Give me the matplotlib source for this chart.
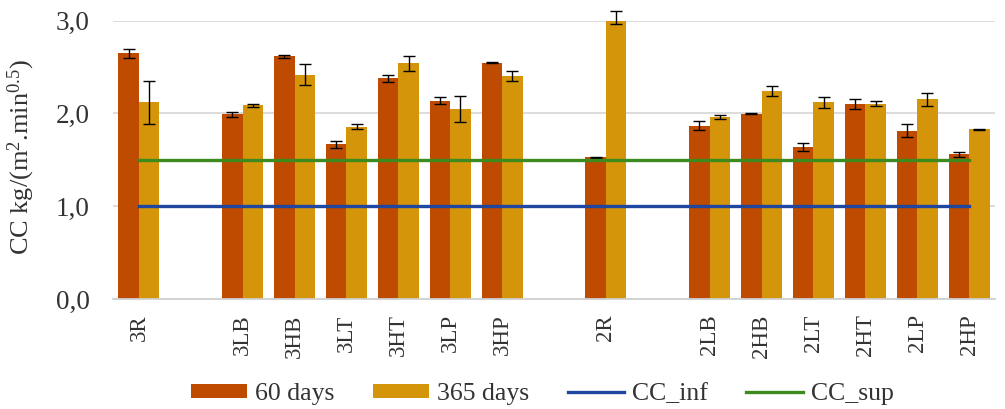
import numpy as np
import matplotlib
matplotlib.use('Agg')
import matplotlib.pyplot as plt

plt.rcParams['font.family'] = ['Liberation Serif', 'DejaVu Serif']
plt.rcParams['mathtext.fontset'] = 'custom'
plt.rcParams['mathtext.rm'] = 'Liberation Serif'
plt.rcParams['mathtext.it'] = 'Liberation Serif:italic'

# categories, empty strings are the gaps between groups
labels = ['3R', '', '3LB', '3HB', '3LT', '3HT', '3LP', '3HP', '',
          '2R', '', '2LB', '2HB', '2LT', '2HT', '2LP', '2HP']
nan = np.nan
d60 = [2.65, nan, 1.99, 2.615, 1.667, 2.38, 2.137, 2.546, nan,
       1.527, nan, 1.867, 1.997, 1.638, 2.105, 1.814, 1.56]
e60 = [0.05, nan, 0.03, 0.02, 0.04, 0.04, 0.04, 0.005, nan,
       0.005, nan, 0.05, 0.005, 0.045, 0.055, 0.07, 0.025]
d365 = [2.12, nan, 2.09, 2.42, 1.857, 2.54, 2.044, 2.40, nan,
        3.03, nan, 1.965, 2.245, 2.12, 2.105, 2.155, 1.83]
e365 = [0.235, nan, 0.015, 0.11, 0.025, 0.08, 0.14, 0.055, nan,
        0.07, nan, 0.02, 0.055, 0.06, 0.025, 0.07, 0.005]
cc_inf = [1.0] * len(labels)
cc_sup = [1.5] * len(labels)

c60 = '#BE4B00'
c365 = '#D4950A'
cinf = '#1F47A0'
csup = '#3D8A1F'

fig = plt.figure(figsize=(10.05, 4.09), dpi=100)
ax = fig.add_axes([113 / 1005, 1 - 299 / 409, 882 / 1005, (299 - 20.7) / 409])

x = np.arange(len(labels))
w = 0.395
ekw = dict(ecolor='black', elinewidth=1, capsize=4, capthick=1)
b1 = ax.bar(x - w / 2, d60, w, color=c60, yerr=e60, error_kw=ekw, label='60 days', zorder=2)
b2 = ax.bar(x + w / 2, d365, w, color=c365, yerr=e365, error_kw=ekw, label='365 days', zorder=2)
for b in (b1, b2):
    for ln in b.errorbar.lines[1] + b.errorbar.lines[2]:
        ln.set_clip_on(False)
l1, = ax.plot(x, cc_inf, color=cinf, lw=2.4, label='CC_inf', zorder=3)
l2, = ax.plot(x, cc_sup, color=csup, lw=2.4, label='CC_sup', zorder=3)

ax.set_xlim(-0.5, len(labels) - 0.5)
ax.set_ylim(0, 3.0)
ax.set_yticks([0, 1, 2, 3])
ax.set_yticklabels(['0,0', '1,0', '2,0', '3,0'], fontsize=19.5, color='#333333')
ax.set_xticks(x)
ax.set_xticklabels(labels, rotation=90, fontsize=16.5, color='#333333')
ax.tick_params(axis='y', length=0, pad=17)
ax.tick_params(axis='x', length=0, pad=11)
ax.yaxis.grid(True, color='#D9D9D9', lw=1.3, zorder=0)
ax.set_axisbelow(True)
for s in ['top', 'right', 'left']:
    ax.spines[s].set_visible(False)
ax.spines['bottom'].set_color('#D0D0D0')
ax.spines['bottom'].set_linewidth(1.3)

ax.set_ylabel(r'CC kg/(m$^2$.min$^{0.5}$)', fontsize=19, color='#333333')
ax.yaxis.set_label_coords(-0.086, 0.51)

fig.legend(handles=[b1, b2, l1, l2],
           labels=['60 days', '365 days', 'CC_inf', 'CC_sup'],
           loc='center', bbox_to_anchor=(542 / 1005, 1 - 394 / 409), ncol=4,
           frameon=False, fontsize=18.5, handlelength=2.2, handleheight=0.5,
           handletextpad=0.3, columnspacing=1.5, labelcolor='#333333')

fig.savefig('out.png', dpi=100)
